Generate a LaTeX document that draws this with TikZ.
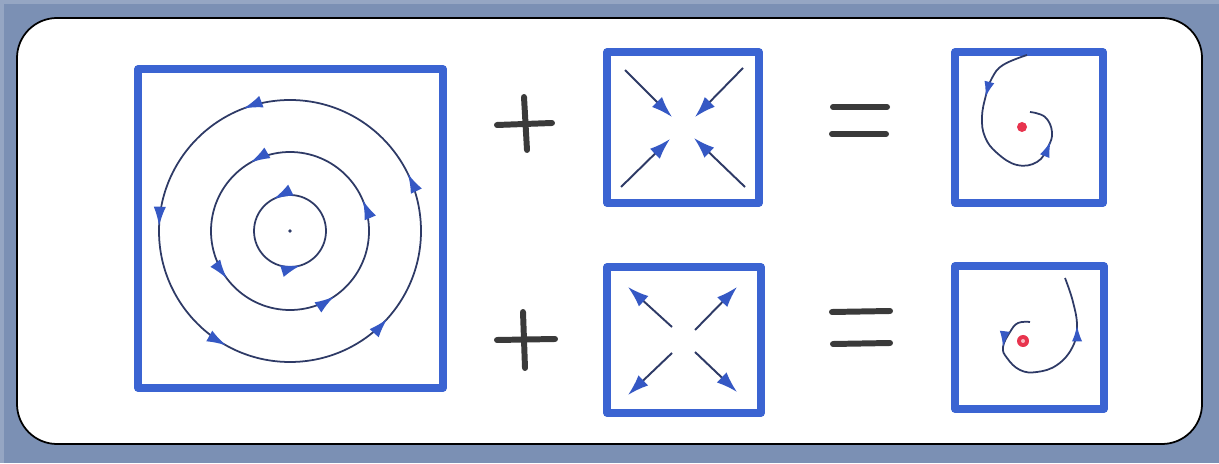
\documentclass[tikz,border=0pt]{standalone}
\usetikzlibrary{arrows.meta,decorations.markings}
\definecolor{bgslate}{HTML}{7B90B4}
\definecolor{boxblue}{HTML}{3B64D2}
\definecolor{tipblue}{HTML}{3558C4}
\definecolor{linenavy}{HTML}{2E3A66}
\definecolor{penink}{HTML}{3A3A3A}
\definecolor{dotred}{HTML}{E8344E}
\newcommand\tipmark{\arrow{Latex[length=11pt,width=7pt,color=tipblue]}}
\newcommand\smalltipmark{\arrow{Latex[length=9pt,width=5.8pt,color=tipblue]}}
\tikzset{
  frame/.style={draw=boxblue, line width=4.2pt, line join=round},
  orbit/.style={draw=linenavy, line width=1pt},
  arrowat/.style={postaction={decorate, decoration={markings, mark=at position #1 with {\tipmark}}}},
  sarrowat/.style={postaction={decorate, decoration={markings, mark=at position #1 with {\smalltipmark}}}},
  flow/.style={draw=linenavy, line width=1.1pt, -{Latex[length=12pt,width=8pt,color=tipblue]}},
  penstroke/.style={draw=penink, line width=3.4pt, line cap=round},
}
\begin{document}
\begin{tikzpicture}[x=0.02cm, y=0.02cm]
\useasboundingbox (0,0) rectangle (1219,463);
\fill[bgslate] (0,0) rectangle (1219,463);
\fill[bgslate!80!white] (0,459) rectangle (1219,463);
\fill[bgslate!80!white] (0,0) rectangle (4,463);
\draw[fill=white, draw=black, line width=1pt, rounded corners=0.8cm] (17,19) rectangle (1202,445);

% large square with closed orbits
\draw[frame] (138,75) rectangle (443,394);
\coordinate (c0) at (290,232);
\fill[linenavy] (c0) circle[radius=1.8];
\draw[orbit, arrowat=0.325, arrowat=0.797] (c0) circle[radius=36];
\draw[orbit, arrowat=0.064, arrowat=0.333, arrowat=0.603, arrowat=0.844] (c0) circle[radius=79];
\draw[orbit, arrowat=0.072, arrowat=0.308, arrowat=0.494, arrowat=0.669, arrowat=0.883] (c0) circle[radius=131];

% plus signs
\draw[penstroke] (497,338) -- (552,340);
\draw[penstroke] (524,366) -- (527,313);
\draw[penstroke] (497,123) -- (555,124);
\draw[penstroke] (523,151) -- (525,95);

% sink square
\draw[frame] (607,260) rectangle (759,411);
\coordinate (s1a) at (625,393); \coordinate (s1b) at (672,346);
\coordinate (s2a) at (743,395); \coordinate (s2b) at (695,346);
\coordinate (s3a) at (621,276); \coordinate (s3b) at (670,324);
\coordinate (s4a) at (745,276); \coordinate (s4b) at (694,325);
\draw[flow] (s1a) -- (s1b);
\draw[flow] (s2a) -- (s2b);
\draw[flow] (s3a) -- (s3b);
\draw[flow] (s4a) -- (s4b);

% source square
\draw[frame] (607,50) rectangle (761,196);
\coordinate (u1a) at (672,136); \coordinate (u1b) at (628,176);
\coordinate (u2a) at (695,133); \coordinate (u2b) at (737,176);
\coordinate (u3a) at (672,110); \coordinate (u3b) at (628,68);
\coordinate (u4a) at (695,111); \coordinate (u4b) at (737,71);
\draw[flow] (u1a) -- (u1b);
\draw[flow] (u2a) -- (u2b);
\draw[flow] (u3a) -- (u3b);
\draw[flow] (u4a) -- (u4b);

% equals signs
\draw[penstroke] (833,356) -- (887,356);
\draw[penstroke] (832,329) -- (886,329);
\draw[penstroke] (832,151) -- (890,152);
\draw[penstroke] (833,119) -- (890,120);

% stable spiral
\draw[frame] (955,260) rectangle (1103,411);
\fill[dotred] (1022,336) circle[radius=5];
\draw[orbit, sarrowat=0.27, sarrowat=0.82] plot[smooth, tension=0.7] coordinates {(1027,408) (1003,398) (992,385) (986,368) (982,346) (985,326) (997,310) (1017,298) (1037,301) (1048,316) (1052,331) (1045,346) (1030,351)};

% unstable spiral
\draw[frame] (955,54) rectangle (1104,197);
\fill[dotred] (1023,122) circle[radius=6];
\fill[dotred!35!white] (1023,122) circle[radius=2];
\draw[orbit, sarrowat=0.2, sarrowat=0.76] plot[smooth, tension=0.7] coordinates {(1030,141) (1018,140) (1010,131) (1003,116) (1007,105) (1020,93) (1037,91) (1057,98) (1072,115) (1077,136) (1073,161) (1065,185)};
\end{tikzpicture}
\end{document}
